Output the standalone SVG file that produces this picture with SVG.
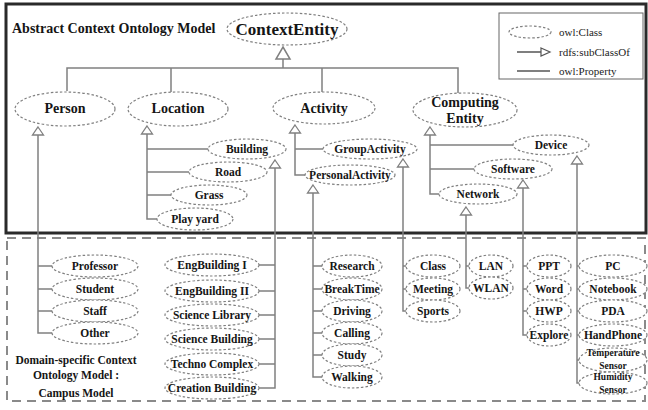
<svg xmlns="http://www.w3.org/2000/svg" xmlns:xlink="http://www.w3.org/1999/xlink" width="648" height="410" viewBox="0 0 648 410">
<style>
.n ellipse{fill:#fff;stroke:#808080;stroke-width:1.2;stroke-dasharray:2.5 2}
.t{font-family:"Liberation Serif","Times New Roman","DejaVu Serif",serif;font-weight:bold;text-anchor:middle;fill:#151515;font-size:11.5px}
.t1{font-size:14px}
.c path{fill:none;stroke:#808080;stroke-width:1.5}
.tri{fill:#fff;stroke:#808080;stroke-width:1.3}
.lg{font-family:"Liberation Serif","Times New Roman","DejaVu Serif",serif;font-size:11px;fill:#222}
</style>
<defs>
<path id="tri" class="tri" d="M0 0 L5.5 8 L-5.5 8 Z"/>
</defs>
<rect x="0" y="0" width="648" height="410" fill="#fff"/>
<rect x="6" y="4" width="640" height="229" fill="none" stroke="#2a2a2a" stroke-width="3"/>
<rect x="7" y="238" width="638" height="163" fill="none" stroke="#8a8a8a" stroke-width="2" stroke-dasharray="9 6"/>
<text x="12" y="33" class="t" style="text-anchor:start;font-size:14px">Abstract Context Ontology Model</text>
<g id="legend">
<rect x="499" y="13" width="144" height="66" fill="#fff" stroke="#666" stroke-width="1"/>
<ellipse cx="530" cy="32" rx="21" ry="6" fill="none" stroke="#808080" stroke-width="1.2" stroke-dasharray="2.5 2"/>
<text x="559" y="36" class="lg">owl:Class</text>
<path d="M517 52 H541" stroke="#555" stroke-width="1.5" fill="none"/>
<path d="M541 48 L550 52 L541 56 Z" fill="#fff" stroke="#555" stroke-width="1.2"/>
<text x="559" y="56" class="lg">rdfs:subClassOf</text>
<path d="M517 71 H550" stroke="#555" stroke-width="1.5" fill="none"/>
<text x="559" y="75" class="lg">owl:Property</text>
</g>
<g id="connectors" class="c">
<path d="M283 59 V68 M67 91 V68 H458 V93 M171 68 V92 M322 68 V92"/>
<path d="M283 47 L290 59 L276 59 Z" class="tri"/>
<path d="M38 135 V333 H53 M38 266 H53 M38 289 H53 M38 311 H53"/>
<use href="#tri" x="38" y="127"/>
<path d="M147 134 V219 H157 M147 149 H209 M147 172 H189 M147 195 H171"/>
<use href="#tri" x="147" y="126"/>
<path d="M275 168 V388 H259 M275 265 H259 M275 291 H259 M275 315 H259 M275 339 H259 M275 364 H259"/>
<use href="#tri" x="275" y="160"/>
<path d="M295 133 V175 H306 M295 149 H324"/>
<use href="#tri" x="295" y="125"/>
<path d="M403 167 V311 H406 M403 266 H406 M403 289 H406"/>
<use href="#tri" x="403" y="159"/>
<path d="M313 193 V377 H323 M313 266 H323 M313 289 H323 M313 311 H323 M313 333 H323 M313 355 H323"/>
<use href="#tri" x="313" y="185"/>
<path d="M430 135 V194 H440 M430 145 H514 M430 169 H475"/>
<use href="#tri" x="430" y="127"/>
<path d="M577 164 V383 H580 M577 266 H580 M577 289 H580 M577 311 H580 M577 335 H580 M577 360 H580"/>
<use href="#tri" x="577" y="156"/>
<path d="M523 188 V335 H527 M523 266 H527 M523 289 H527 M523 311 H527"/>
<use href="#tri" x="523" y="180"/>
<path d="M466 215 V288 H469 M466 266 H469"/>
<use href="#tri" x="466" y="207"/>
</g>
<g id="ContextEntity" class="n"><ellipse cx="287" cy="29" rx="60" ry="16"/><text x="287" y="35" class="t" style="font-size:17px">ContextEntity</text></g>
<g id="Person" class="n"><ellipse cx="65" cy="109" rx="50" ry="17"/><text x="65" y="113" class="t t1">Person</text></g>
<g id="Location" class="n"><ellipse cx="178" cy="109" rx="50" ry="17"/><text x="178" y="113" class="t t1">Location</text></g>
<g id="Activity" class="n"><ellipse cx="324" cy="108" rx="51" ry="16"/><text x="324" y="113" class="t t1">Activity</text></g>
<g id="ComputingEntity" class="n"><ellipse cx="465" cy="110" rx="52" ry="17"/><text x="465" y="107" class="t t1">Computing</text><text x="465" y="123" class="t t1">Entity</text></g>
<g id="Building" class="n"><ellipse cx="247" cy="149" rx="39" ry="10"/><text x="247" y="153" class="t">Building</text></g>
<g id="Road" class="n"><ellipse cx="228" cy="172" rx="39" ry="10"/><text x="228" y="176" class="t">Road</text></g>
<g id="Grass" class="n"><ellipse cx="209" cy="195" rx="38" ry="10"/><text x="209" y="199" class="t">Grass</text></g>
<g id="PlayYard" class="n"><ellipse cx="195" cy="219" rx="38" ry="11"/><text x="195" y="223" class="t">Play yard</text></g>
<g id="GroupActivity" class="n"><ellipse cx="370" cy="149" rx="47" ry="10"/><text x="370" y="153" class="t">GroupActivity</text></g>
<g id="PersonalActivity" class="n"><ellipse cx="350" cy="175" rx="45" ry="10"/><text x="350" y="179" class="t">PersonalActivity</text></g>
<g id="Device" class="n"><ellipse cx="551" cy="145" rx="38" ry="10"/><text x="551" y="149" class="t">Device</text></g>
<g id="Software" class="n"><ellipse cx="513" cy="169" rx="39" ry="10"/><text x="513" y="173" class="t">Software</text></g>
<g id="Network" class="n"><ellipse cx="478" cy="194" rx="39" ry="10"/><text x="478" y="198" class="t">Network</text></g>
<g id="Professor" class="n"><ellipse cx="95" cy="266" rx="43" ry="11"/><text x="95" y="270" class="t">Professor</text></g>
<g id="Student" class="n"><ellipse cx="95" cy="289" rx="43" ry="11"/><text x="95" y="293" class="t">Student</text></g>
<g id="Staff" class="n"><ellipse cx="95" cy="311" rx="43" ry="11"/><text x="95" y="315" class="t">Staff</text></g>
<g id="Other" class="n"><ellipse cx="95" cy="333" rx="43" ry="11"/><text x="95" y="337" class="t">Other</text></g>
<g id="EngBuilding1" class="n"><ellipse cx="212" cy="265" rx="47" ry="11"/><text x="212" y="269" class="t">EngBuilding I</text></g>
<g id="EngBuilding2" class="n"><ellipse cx="212" cy="291" rx="47" ry="11"/><text x="212" y="295" class="t">EngBuilding II</text></g>
<g id="ScienceLibrary" class="n"><ellipse cx="212" cy="315" rx="47" ry="11"/><text x="212" y="319" class="t">Science Library</text></g>
<g id="ScienceBuilding" class="n"><ellipse cx="212" cy="339" rx="47" ry="11"/><text x="212" y="343" class="t">Science Building</text></g>
<g id="TechnoComplex" class="n"><ellipse cx="212" cy="364" rx="47" ry="11"/><text x="212" y="368" class="t">Techno Complex</text></g>
<g id="CreationBuilding" class="n"><ellipse cx="212" cy="388" rx="47" ry="11"/><text x="212" y="392" class="t">Creation Building</text></g>
<g id="Research" class="n"><ellipse cx="352" cy="266" rx="30" ry="11"/><text x="352" y="270" class="t">Research</text></g>
<g id="BreakTime" class="n"><ellipse cx="352" cy="289" rx="30" ry="11"/><text x="352" y="293" class="t">BreakTime</text></g>
<g id="Driving" class="n"><ellipse cx="352" cy="311" rx="30" ry="11"/><text x="352" y="315" class="t">Driving</text></g>
<g id="Calling" class="n"><ellipse cx="352" cy="333" rx="30" ry="11"/><text x="352" y="337" class="t">Calling</text></g>
<g id="Study" class="n"><ellipse cx="352" cy="355" rx="30" ry="11"/><text x="352" y="359" class="t">Study</text></g>
<g id="Walking" class="n"><ellipse cx="352" cy="377" rx="30" ry="11"/><text x="352" y="381" class="t">Walking</text></g>
<g id="Class" class="n"><ellipse cx="433" cy="266" rx="27" ry="11"/><text x="433" y="270" class="t">Class</text></g>
<g id="Meeting" class="n"><ellipse cx="433" cy="289" rx="27" ry="11"/><text x="433" y="293" class="t">Meeting</text></g>
<g id="Sports" class="n"><ellipse cx="433" cy="311" rx="27" ry="11"/><text x="433" y="315" class="t">Sports</text></g>
<g id="LAN" class="n"><ellipse cx="491" cy="266" rx="22" ry="11"/><text x="491" y="270" class="t">LAN</text></g>
<g id="WLAN" class="n"><ellipse cx="491" cy="288" rx="22" ry="11"/><text x="491" y="292" class="t">WLAN</text></g>
<g id="PPT" class="n"><ellipse cx="549" cy="266" rx="22" ry="11"/><text x="549" y="270" class="t">PPT</text></g>
<g id="Word" class="n"><ellipse cx="549" cy="289" rx="22" ry="11"/><text x="549" y="293" class="t">Word</text></g>
<g id="HWP" class="n"><ellipse cx="549" cy="311" rx="22" ry="11"/><text x="549" y="315" class="t">HWP</text></g>
<g id="Explore" class="n"><ellipse cx="549" cy="335" rx="22" ry="11"/><text x="549" y="339" class="t">Explore</text></g>
<g id="PC" class="n"><ellipse cx="613" cy="266" rx="34" ry="11"/><text x="613" y="270" class="t">PC</text></g>
<g id="Notebook" class="n"><ellipse cx="613" cy="289" rx="34" ry="11"/><text x="613" y="293" class="t">Notebook</text></g>
<g id="PDA" class="n"><ellipse cx="613" cy="311" rx="34" ry="11"/><text x="613" y="315" class="t">PDA</text></g>
<g id="HandPhone" class="n"><ellipse cx="613" cy="335" rx="34" ry="11"/><text x="613" y="339" class="t">HandPhone</text></g>
<g id="TemperatureSensor" class="n"><ellipse cx="613" cy="360" rx="34" ry="12"/><text x="613" y="356" class="t" style="font-size:9.5px">Temperature</text><text x="613" y="369" class="t" style="font-size:9.5px">Sensor</text></g>
<g id="HumiditySensor" class="n"><ellipse cx="613" cy="383" rx="34" ry="11"/><text x="613" y="380" class="t" style="font-size:9.5px">Humidity</text><text x="613" y="393" class="t" style="font-size:9.5px">Sensor</text></g>
<g id="domainLabel">
<text x="76" y="364" class="t">Domain-specific Context</text>
<text x="76" y="379" class="t">Ontology Model :</text>
<text x="76" y="397" class="t">Campus Model</text>
</g>
</svg>
